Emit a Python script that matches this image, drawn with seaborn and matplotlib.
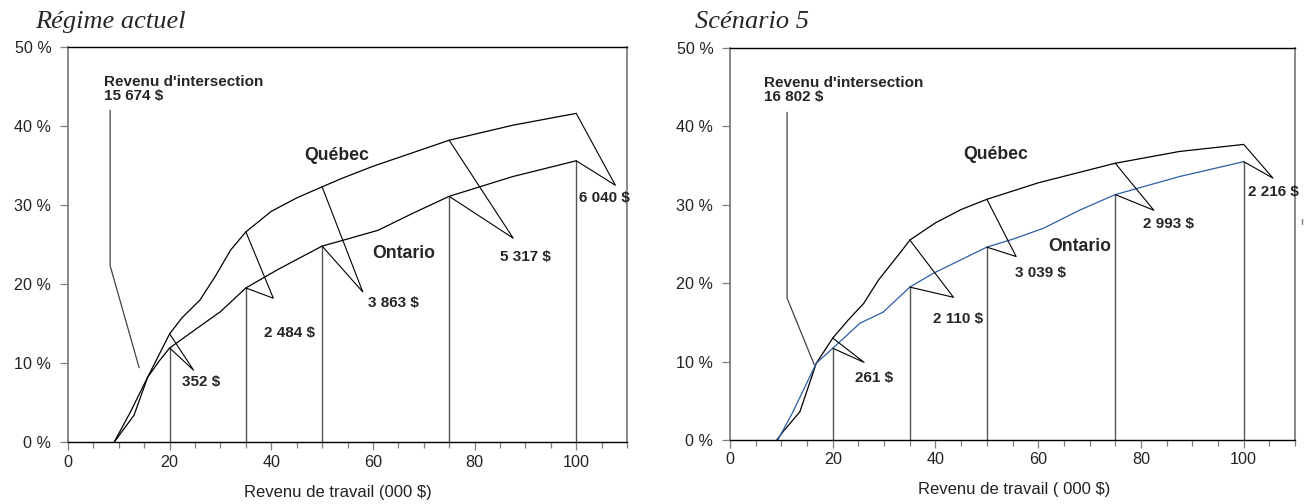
import matplotlib
matplotlib.use("Agg")
import matplotlib.pyplot as plt
from matplotlib.ticker import MultipleLocator, FixedLocator
import numpy as np
import pandas as pd
import seaborn as sns

sns.set_style("white")
plt.rcParams["font.family"] = ["Liberation Sans", "DejaVu Sans"]

# Taux effectif (%) selon le revenu de travail (000 $) — régime actuel
rev_qc_actuel = [9.1, 13.0, 15.674, 20, 22.4, 26, 29, 32, 35, 40, 45, 50, 54, 60, 65, 70, 75, 87.5, 100]
taux_qc_actuel = [0, 3.4, 8.2, 13.7, 15.7, 18.0, 21.0, 24.3, 26.6, 29.2, 30.9, 32.3, 33.4, 34.9, 36.0, 37.1, 38.2, 40.1, 41.6]
rev_on_actuel = [9.1, 12.2, 15.674, 18, 20, 25.4, 30, 35, 41.2, 45, 50, 55, 61, 68, 75, 87.5, 100]
taux_on_actuel = [0, 3.7, 8.2, 10.3, 11.9, 14.4, 16.5, 19.5, 21.8, 23.1, 24.8, 25.7, 26.8, 29.0, 31.1, 33.6, 35.6]

# Scénario 5
rev_qc_s5 = [9.1, 10.5, 13.6, 16.802, 20, 23, 26, 28.9, 33.5, 35, 40, 45, 50, 60, 75, 87.5, 100]
taux_qc_s5 = [0, 1.2, 3.6, 9.8, 13.0, 15.3, 17.4, 20.4, 24.2, 25.5, 27.7, 29.4, 30.7, 32.8, 35.3, 36.8, 37.7]
rev_on_s5 = [9.3, 12.1, 16.802, 20, 25.3, 29.8, 35, 39.4, 45, 50, 55, 61, 68, 75, 87.5, 100]
taux_on_s5 = [0, 3.4, 9.8, 11.7, 14.9, 16.3, 19.5, 21.2, 23.0, 24.6, 25.6, 27.0, 29.3, 31.3, 33.6, 35.5]

paliers = [20, 35, 50, 75, 100]
ecarts_actuel = ["352 $", "2 484 $", "3 863 $", "5 317 $", "6 040 $"]
ecarts_s5 = ["261 $", "2 110 $", "3 039 $", "2 993 $", "2 216 $"]
intersection_actuel = "Revenu d'intersection\n15 674 $"
intersection_s5 = "Revenu d'intersection\n16 802 $"

x_ticks = [0, 20, 40, 60, 80, 100]
y_ticks = [0, 10, 20, 30, 40, 50]
y_tick_labels = ["0 %", "10 %", "20 %", "30 %", "40 %", "50 %"]

GRIS = "#7f7f7f"
BLEU = "#2b5fa6"

# Mise en page des renvois (pointes des flèches et étiquettes)
pointes_actuel = [(24.7, 9.1), (40.4, 18.2), (58.0, 19.0), (87.6, 25.8), (107.7, 32.5)]
etiq_actuel = [(22.5, 7.6), (38.5, 13.8), (59.0, 17.6), (85.0, 23.4), (100.6, 30.9)]
pointes_s5 = [(26.1, 9.9), (43.5, 18.2), (55.7, 23.4), (82.5, 29.3), (105.7, 33.4)]
etiq_s5 = [(24.4, 7.9), (39.6, 15.4), (55.4, 21.3), (80.3, 27.5), (100.8, 31.6)]


def panneau(ax, rq, tq, ro, to, couleur_on, ecarts, pointes, etiq,
            texte_inter, pos_inter, trace_inter, pos_qc, pos_on, xlabel, lx):
    df = pd.concat([
        pd.DataFrame({"revenu": rq, "taux": tq, "province": "Québec"}),
        pd.DataFrame({"revenu": ro, "taux": to, "province": "Ontario"}),
    ])
    sns.lineplot(data=df, x="revenu", y="taux", hue="province",
                 palette={"Québec": "black", "Ontario": couleur_on},
                 estimator=None, sort=False, legend=False, linewidth=0.9, ax=ax)

    for p, lab, (tx, ty), (ex, ey) in zip(paliers, ecarts, pointes, etiq):
        vq = np.interp(p, rq, tq)
        vo = np.interp(p, ro, to)
        ax.plot([p, p], [0, vo], color="#555555", lw=1.0)
        ax.plot([p, tx, p], [vq, ty, vo], color="black", lw=0.8)
        ax.text(ex, ey, lab, fontsize=11, fontweight="bold", ha="left", va="center")

    ax.plot(trace_inter[0], trace_inter[1], color="#444444", lw=0.9)
    ax.text(pos_inter[0], pos_inter[1], texte_inter, fontsize=11, fontweight="bold",
            ha="left", va="top", linespacing=1.0)
    ax.text(pos_qc[0], pos_qc[1], "Québec", fontsize=12.7, fontweight="bold", va="center")
    ax.text(pos_on[0], pos_on[1], "Ontario", fontsize=12.7, fontweight="bold", va="center")

    ax.set_xlim(0, 110)
    ax.set_ylim(0, 50)
    ax.xaxis.set_major_locator(FixedLocator(x_ticks))
    ax.xaxis.set_minor_locator(MultipleLocator(5))
    ax.set_yticks(y_ticks)
    ax.set_yticklabels(y_tick_labels)
    ax.tick_params(axis="both", which="major", direction="out", length=6, width=0.9,
                   color=GRIS, labelsize=11.6, labelcolor="#222222")
    ax.tick_params(axis="x", which="major", pad=3, bottom=True)
    ax.tick_params(axis="y", which="major", pad=6, left=True)
    ax.tick_params(axis="x", which="minor", direction="out", length=4, width=0.9,
                   color=GRIS, bottom=True)
    for side in ["left", "right"]:
        ax.spines[side].set_color(GRIS)
        ax.spines[side].set_linewidth(1.3)
    for side in ["top", "bottom"]:
        ax.spines[side].set_color("black")
        ax.spines[side].set_linewidth(1.0)
    ax.set_xlabel(xlabel, fontsize=12, color="#222222")
    ax.xaxis.set_label_coords(lx, -0.108)
    ax.set_ylabel("")


fig = plt.figure(figsize=(13.05, 5.04), dpi=100)
ax1 = fig.add_axes([0.0521, 0.1230, 0.4284, 0.7837])
ax2 = fig.add_axes([0.5594, 0.1270, 0.4330, 0.7778])

panneau(ax1, rev_qc_actuel, taux_qc_actuel, rev_on_actuel, taux_on_actuel, "black",
        ecarts_actuel, pointes_actuel, etiq_actuel, intersection_actuel, (7.1, 46.4),
        ([8.3, 8.3, 14.0], [42.0, 22.3, 9.4]), (46.4, 36.3), (59.8, 23.9),
        "Revenu de travail (000 $)", 0.483)
panneau(ax2, rev_qc_s5, taux_qc_s5, rev_on_s5, taux_on_s5, BLEU,
        ecarts_s5, pointes_s5, etiq_s5, intersection_s5, (6.6, 46.4),
        ([11.1, 11.1, 16.4], [41.8, 18.1, 9.6]), (45.5, 36.4), (62.0, 24.7),
        "Revenu de travail ( 000 $)", 0.503)
ax2.plot([111.3, 111.3], [27.6, 28.2], color=GRIS, lw=1.0, clip_on=False)

fig.text(35 / 1305, 1 - 28 / 504, "Régime actuel", family="Liberation Serif",
         style="italic", fontsize=19, va="baseline")
fig.text(695 / 1305, 1 - 28 / 504, "Scénario 5", family="Liberation Serif",
         style="italic", fontsize=19, va="baseline")

fig.savefig("out.png", dpi=100)
